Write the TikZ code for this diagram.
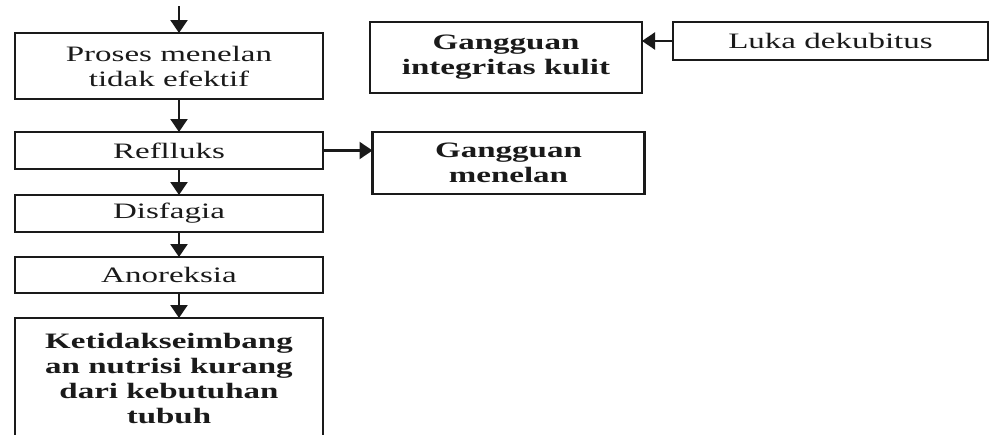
\documentclass[tikz,border=0pt]{standalone}
\usepackage{fontspec}
\setmainfont{Liberation Serif}[FakeStretch=1.5]
\usetikzlibrary{arrows.meta,positioning}
\definecolor{ink}{HTML}{1A1A1A}

\begin{document}
\begin{tikzpicture}[x=1pt,y=-1pt,
  box/.style={draw=ink,line width=2.2pt,outer sep=0pt,inner sep=2pt,align=center,text=ink,font=\fontsize{22}{25}\selectfont,minimum width=308pt},
  keybox/.style={box,line width=2.8pt,minimum width=272pt,font=\fontsize{22}{25}\selectfont\bfseries},
  flow/.style={-{Triangle[length=13pt,width=17pt]},line width=2.2pt,ink}]
\useasboundingbox (0,0) rectangle (995,434);
\clip (0,0) rectangle (995,434);
% left column
\coordinate (ax) at (179,0);
\coordinate (top) at (179,6);
\node[box,minimum height=66pt] (proses) at (169,66) {Proses menelan\\tidak efektif};
\node[box,minimum height=37pt,below=33pt of proses] (reflluks) {Reflluks};
\node[box,minimum height=37pt,below=26pt of reflluks] (disfagia) {Disfagia};
\node[box,minimum height=36pt,below=25pt of disfagia] (anoreksia) {Anoreksia};
\node[box,minimum height=120pt,below=25pt of anoreksia,font=\fontsize{22}{25}\selectfont\bfseries] (nutrisi) {Ketidakseimbang\\an nutrisi kurang\\dari kebutuhan\\tubuh};
\draw[flow] (top) -- (proses.north -| ax);
\draw[flow] (proses.south -| ax) -- (reflluks.north -| ax);
\draw[flow] (reflluks.south -| ax) -- (disfagia.north -| ax);
\draw[flow] (disfagia.south -| ax) -- (anoreksia.north -| ax);
\draw[flow] (anoreksia.south -| ax) -- (nutrisi.north -| ax);
% right side
\node[keybox,minimum height=71pt] (kulit) at (506,57.5) {Gangguan\\integritas kulit};
\node[box,minimum width=315pt,minimum height=38pt] (luka) at (830.5,41) {Luka dekubitus};
\node[keybox,minimum height=62pt] (menelan) at (508.5,163) {Gangguan\\menelan};
\draw[flow] (luka.west) -- (luka.west -| kulit.east);
\draw[flow] (reflluks.east) -- (reflluks.east -| menelan.west);
\end{tikzpicture}
\end{document}
